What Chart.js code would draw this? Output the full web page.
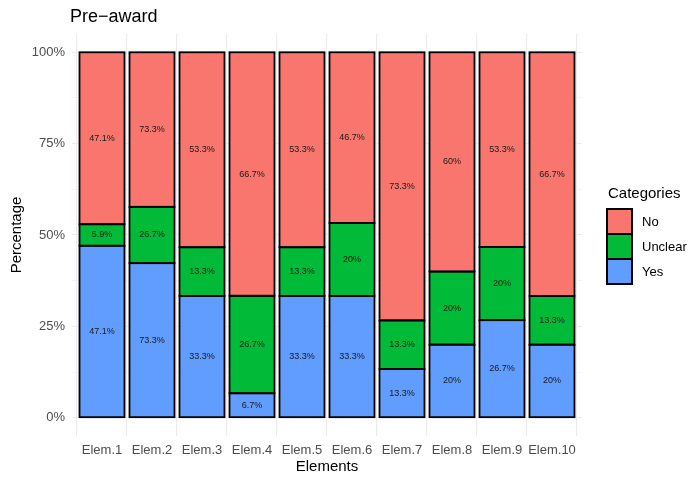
<!DOCTYPE html>
<html><head><meta charset="utf-8">
<script src="https://cdn.jsdelivr.net/npm/chart.js@4/dist/chart.umd.min.js"></script>
<style>html,body{margin:0;padding:0;background:#fff}#wrap{width:688px;height:478px}</style>
</head><body><div id="wrap"><canvas id="c" width="688" height="478"></canvas></div>
<script>
const categories = ['Elem.1','Elem.2','Elem.3','Elem.4','Elem.5','Elem.6','Elem.7','Elem.8','Elem.9','Elem.10'];
const seriesNames = ['No','Unclear','Yes'];
// label values as printed in each segment (bars are filled to 100%)
const yesPct = [47.1,73.3,33.3,6.7,33.3,33.3,13.3,20,26.7,20];
const unclearPct = [5.9,26.7,13.3,26.7,13.3,20,13.3,20,20,13.3];
const noPct = [47.1,73.3,53.3,66.7,53.3,46.7,73.3,60,53.3,66.7];
const yTickValues = [0,25,50,75,100];
const yTickLabels = ['0%','25%','50%','75%','100%'];
const colors = {No:'#F8766D', Unclear:'#00BA38', Yes:'#619CFF'};

const FONT = "'Liberation Sans', Arial, sans-serif";
const totals = categories.map((c,i)=>yesPct[i]+unclearPct[i]+noPct[i]);
const fillData = arr => arr.map((v,i)=>({x:i+1, y:v/totals[i]*100, lab:v}));

const datasets = [
  {label:'Yes', data:fillData(yesPct), backgroundColor:colors.Yes},
  {label:'Unclear', data:fillData(unclearPct), backgroundColor:colors.Unclear},
  {label:'No', data:fillData(noPct), backgroundColor:colors.No}
].map(d=>Object.assign(d,{borderWidth:0, inflateAmount:0, categoryPercentage:0.9, barPercentage:1}));

const decor = {
  id:'decor',
  afterDatasetsDraw(chart){
    const ctx = chart.ctx;
    ctx.save();
    ctx.strokeStyle = '#000';
    ctx.lineWidth = 1.8;
    chart.data.datasets.forEach((ds,di)=>{
      chart.getDatasetMeta(di).data.forEach(el=>{
        const w = el.width;
        ctx.strokeRect(el.x - w/2, el.y, w, el.base - el.y);
      });
    });
    ctx.font = '9px '+FONT;
    ctx.fillStyle = '#1a1a1a';
    ctx.textAlign = 'center';
    ctx.textBaseline = 'middle';
    chart.data.datasets.forEach((ds,di)=>{
      chart.getDatasetMeta(di).data.forEach((el,i)=>{
        ctx.fillText(ds.data[i].lab+'%', el.x, (el.y+el.base)/2);
      });
    });
    ctx.restore();
  },
  afterDraw(chart){
    const ctx = chart.ctx;
    ctx.save();
    ctx.fillStyle = '#000';
    ctx.textAlign = 'left';
    ctx.textBaseline = 'alphabetic';
    ctx.font = '18px '+FONT;
    ctx.fillText('Pre\u2212award', 70, 22);
    ctx.font = '15px '+FONT;
    ctx.fillText('Categories', 608, 198);
    ctx.font = '13px '+FONT;
    ctx.textBaseline = 'middle';
    seriesNames.forEach((n,k)=>{
      const y = 209 + k*25;
      ctx.fillStyle = colors[n];
      ctx.fillRect(607, y, 25, 25);
      ctx.strokeStyle = '#000';
      ctx.lineWidth = 2;
      ctx.strokeRect(607, y, 25, 25);
      ctx.fillStyle = '#000';
      ctx.fillText(n, 642, y+13);
    });
    ctx.restore();
  }
};

new Chart(document.getElementById('c'), {
  type:'bar',
  data:{datasets},
  plugins:[decor],
  options:{
    responsive:false, animation:false, devicePixelRatio:1,
    layout:{padding:{top:34,right:106,left:0,bottom:0}},
    plugins:{legend:{display:false}, tooltip:{enabled:false}, title:{display:false}},
    scales:{
      x:{
        type:'linear', stacked:true, min:0.4, max:10.6, offset:false,
        afterBuildTicks:s=>{ s.ticks = categories.map((c,i)=>({value:i+1})); },
        afterFit:s=>{ s.height = 42; },
        ticks:{callback:v=>categories[Math.round(v)-1]||'', autoSkip:false, maxRotation:0, color:'#4d4d4d', font:{family:FONT,size:13}, padding:7},
        grid:{color:'#ebebeb', lineWidth:1.1, drawTicks:false},
        border:{display:false},
        title:{display:true, text:'Elements', color:'#000', font:{family:FONT,size:15}, padding:{top:0,bottom:2}}
      },
      y:{
        type:'linear', stacked:true, min:-5, max:105,
        afterBuildTicks:s=>{ const t=[]; for(let v=0; v<=100; v+=12.5) t.push({value:v}); s.ticks=t; },
        afterFit:s=>{ s.width = 72; },
        ticks:{callback:v=>{const k=yTickValues.indexOf(v); return k>=0?yTickLabels[k]:'';}, autoSkip:false, color:'#4d4d4d', font:{family:FONT,size:13}, padding:7},
        grid:{color:'#ebebeb', lineWidth:c=>(c.tick && c.tick.value%25===0)?1.1:0.55, drawTicks:false},
        border:{display:false},
        title:{display:true, text:'Percentage', color:'#000', font:{family:FONT,size:15}, padding:{top:8,bottom:0}}
      }
    }
  }
});
</script></body></html>
